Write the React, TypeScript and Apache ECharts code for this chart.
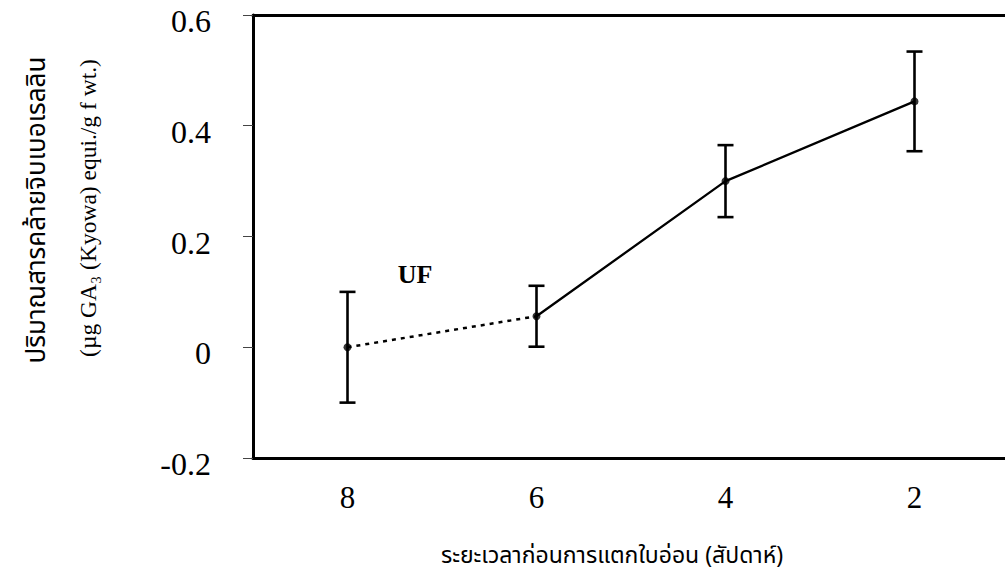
import React, { useEffect, useRef } from "react";
import * as echarts from "echarts";

const weekLabels = ["8", "6", "4", "2"];
const means = [0, 0.056, 0.3, 0.444];
const errs = [0.1, 0.055, 0.065, 0.09];
const yName1 = "ปริมาณสารคล้ายจิบเบอเรลลิน";
const yName2 = "(µg GA₃ (Kyowa) equi./g f wt.)";
const xName = "ระยะเวลาก่อนการแตกใบอ่อน (สัปดาห์)";
const ufLabel = "UF";

const serif = "'Liberation Serif', 'Times New Roman', 'DejaVu Serif', serif";
const thai = "'Noto Sans Thai', 'Noto Sans', 'DejaVu Sans', sans-serif";

export default function App() {
  const ref = useRef<HTMLDivElement>(null);
  useEffect(() => {
    if (!ref.current) return;
    const chart = echarts.init(ref.current, null, { renderer: "svg" });
    const dashed = means.map((m, i) => (i <= 1 ? m : "-"));
    const solid = means.map((m, i) => (i >= 1 ? m : "-"));
    const errData = means.map((m, i) => [i, m - errs[i], m + errs[i]]);
    chart.setOption({
      animation: false,
      backgroundColor: "#ffffff",
      grid: {
        left: 253,
        right: -4,
        top: 15,
        bottom: 127,
        containLabel: false,
        outerBoundsMode: "none",
      },
      xAxis: [
        {
          type: "category",
          data: weekLabels,
          boundaryGap: true,
          name: xName,
          nameLocation: "middle",
          nameGap: 86,
          nameTextStyle: {
            fontFamily: thai,
            fontSize: 23,
            color: "#000",
            padding: [0, 38, 0, 0],
          },
          axisLine: { show: true, onZero: false, lineStyle: { color: "#000", width: 3 } },
          axisTick: { show: false },
          splitLine: { show: false },
          axisLabel: {
            margin: 24,
            fontFamily: serif,
            fontSize: 31,
            color: "#000",
          },
        },
        {
          type: "category",
          data: weekLabels,
          boundaryGap: true,
          position: "top",
          axisLine: { show: true, onZero: false, lineStyle: { color: "#000", width: 3 } },
          axisTick: { show: false },
          axisLabel: { show: false },
          splitLine: { show: false },
        },
      ],
      yAxis: {
        type: "value",
        min: -0.2,
        max: 0.6,
        interval: 0.2,
        axisLine: { show: true, onZero: false, lineStyle: { color: "#000", width: 3 } },
        axisTick: { show: true, length: 10, lineStyle: { color: "#444", width: 1 } },
        splitLine: { show: false },
        axisLabel: {
          margin: 42,
          fontFamily: serif,
          fontSize: 32,
          color: "#000",
          verticalAlign: "top",
          lineHeight: 12,
          formatter: (v: number) => {
            const r = Math.round(v * 10) / 10;
            return r === 0 ? "0" : String(r);
          },
        },
      },
      series: [
        {
          type: "line",
          data: dashed,
          symbol: "none",
          connectNulls: false,
          lineStyle: { color: "#000", width: 2.5, type: [4, 5] },
          z: 3,
        },
        {
          type: "line",
          data: solid,
          symbol: "none",
          lineStyle: { color: "#000", width: 2.3 },
          z: 3,
        },
        {
          type: "custom",
          data: errData,
          z: 4,
          renderItem: (params: any, api: any) => {
            const x = api.value(0);
            const lo = api.coord([x, api.value(1)]);
            const hi = api.coord([x, api.value(2)]);
            const cap = 8;
            const st = { stroke: "#000", lineWidth: 2.6 };
            return {
              type: "group",
              children: [
                { type: "line", shape: { x1: lo[0], y1: lo[1], x2: hi[0], y2: hi[1] }, style: st },
                { type: "line", shape: { x1: lo[0] - cap, y1: lo[1], x2: lo[0] + cap, y2: lo[1] }, style: st },
                { type: "line", shape: { x1: hi[0] - cap, y1: hi[1], x2: hi[0] + cap, y2: hi[1] }, style: st },
              ],
            };
          },
        },
        {
          type: "scatter",
          data: means.map((m, i) => [i, m]),
          symbol: "circle",
          symbolSize: 8,
          itemStyle: { color: "#000" },
          z: 5,
        },
      ],
      graphic: [
        {
          type: "text",
          x: 37,
          y: 210,
          rotation: Math.PI / 2,
          style: {
            text: yName1,
            fontFamily: thai,
            fontSize: 26,
            fill: "#000",
            align: "center",
            verticalAlign: "middle",
          },
        },
        {
          type: "text",
          x: 88,
          y: 208,
          rotation: Math.PI / 2,
          style: {
            text: yName2,
            fontFamily: serif,
            fontSize: 23.5,
            fill: "#000",
            align: "center",
            verticalAlign: "middle",
          },
        },
        {
          type: "text",
          x: 415,
          y: 274,
          style: {
            text: ufLabel,
            fontFamily: serif,
            fontSize: 26,
            fontWeight: "bold",
            fill: "#000",
            align: "center",
            verticalAlign: "middle",
          },
        },
      ],
    });
    return () => chart.dispose();
  }, []);
  return (
    <div
      ref={ref}
      style={{ position: "absolute", left: 0, top: 0, width: 1005, height: 585 }}
    />
  );
}
